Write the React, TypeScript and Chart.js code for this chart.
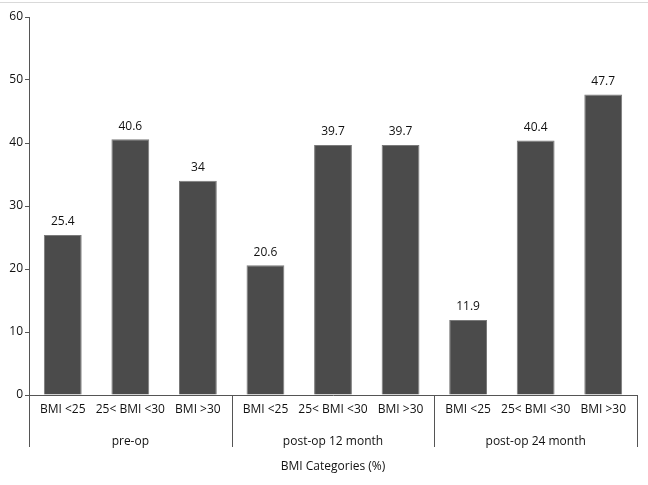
import React, { useEffect, useRef } from "react";
import { Chart, registerables } from "chart.js";

Chart.register(...registerables);

const groups = ["pre-op", "post-op 12 month", "post-op 24 month"];
const categories = ["BMI <25", "25< BMI <30", "BMI >30"];
const values = [25.4, 40.6, 34, 20.6, 39.7, 39.7, 11.9, 40.4, 47.7];
const valueLabels = ["25.4", "40.6", "34", "20.6", "39.7", "39.7", "11.9", "40.4", "47.7"];
const axisTitle = "BMI Categories (%)";

const FONT = "'Open Sans', 'DejaVu Sans', sans-serif";

export default function App() {
  const ref = useRef<HTMLCanvasElement | null>(null);

  useEffect(() => {
    document.body.style.margin = "0";
    const labels: string[] = [];
    groups.forEach(() => categories.forEach((c) => labels.push(c)));

    const customPlugin = {
      id: "custom",
      beforeDraw(chart: any) {
        const ctx = chart.ctx;
        ctx.save();
        ctx.strokeStyle = "#d9d9d9";
        ctx.lineWidth = 1;
        ctx.beginPath();
        ctx.moveTo(0, 2.5);
        ctx.lineTo(chart.width, 2.5);
        ctx.stroke();
        ctx.restore();
      },
      afterDraw(chart: any) {
        const ctx = chart.ctx;
        const x = chart.scales.x;
        const area = chart.chartArea;
        const meta = chart.getDatasetMeta(0);
        ctx.save();
        ctx.fillStyle = "#111";
        ctx.font = `12px ${FONT}`;
        ctx.textAlign = "center";
        ctx.textBaseline = "middle";
        meta.data.forEach((bar: any, i: number) => {
          ctx.fillText(valueLabels[i], bar.x, bar.y - 13);
        });
        labels.forEach((l, i) => {
          ctx.fillText(l, x.getPixelForValue(i), area.bottom + 15);
        });
        const n = categories.length;
        const step = (area.right - area.left) / labels.length;
        ctx.strokeStyle = "#555";
        ctx.lineWidth = 1;
        for (let g = 0; g <= groups.length; g++) {
          const px = Math.round(area.left + g * n * step) + 0.5;
          ctx.beginPath();
          ctx.moveTo(px, area.bottom);
          ctx.lineTo(px, area.bottom + 52);
          ctx.stroke();
        }
        groups.forEach((gname, g) => {
          const cx = area.left + (g * n + n / 2) * step;
          ctx.fillText(gname, cx, area.bottom + 47);
        });
        ctx.fillText(axisTitle, (area.left + area.right) / 2, area.bottom + 72);
        ctx.restore();
      },
    };

    const chart = new Chart(ref.current as HTMLCanvasElement, {
      type: "bar",
      data: {
        labels,
        datasets: [
          {
            data: values,
            backgroundColor: "#4b4b4b",
            borderColor: "#7a7a7a",
            borderWidth: 1,
            barPercentage: 0.56,
            categoryPercentage: 1,
          },
        ],
      },
      options: {
        animation: false,
        responsive: false,
        layout: { padding: { top: 17, right: 11, left: 0, bottom: 0 } },
        plugins: { legend: { display: false }, tooltip: { enabled: false } },
        scales: {
          x: {
            ticks: { display: false },
            grid: { display: false },
            border: { display: true, color: "#555" },
            afterFit(scale: any) {
              scale.height = 90;
            },
          },
          y: {
            min: 0,
            max: 60,
            ticks: {
              stepSize: 10,
              color: "#111",
              font: { size: 12, family: FONT },
              padding: 2,
            },
            grid: { drawOnChartArea: false, tickLength: 4, color: "#555" },
            border: { display: true, color: "#555" },
            afterFit(scale: any) {
              scale.width = 29;
            },
          },
        },
      },
      plugins: [customPlugin],
    });
    return () => chart.destroy();
  }, []);

  return (
    <div style={{ width: 648, height: 485, background: "#fff" }}>
      <canvas ref={ref} width={648} height={485} />
    </div>
  );
}
